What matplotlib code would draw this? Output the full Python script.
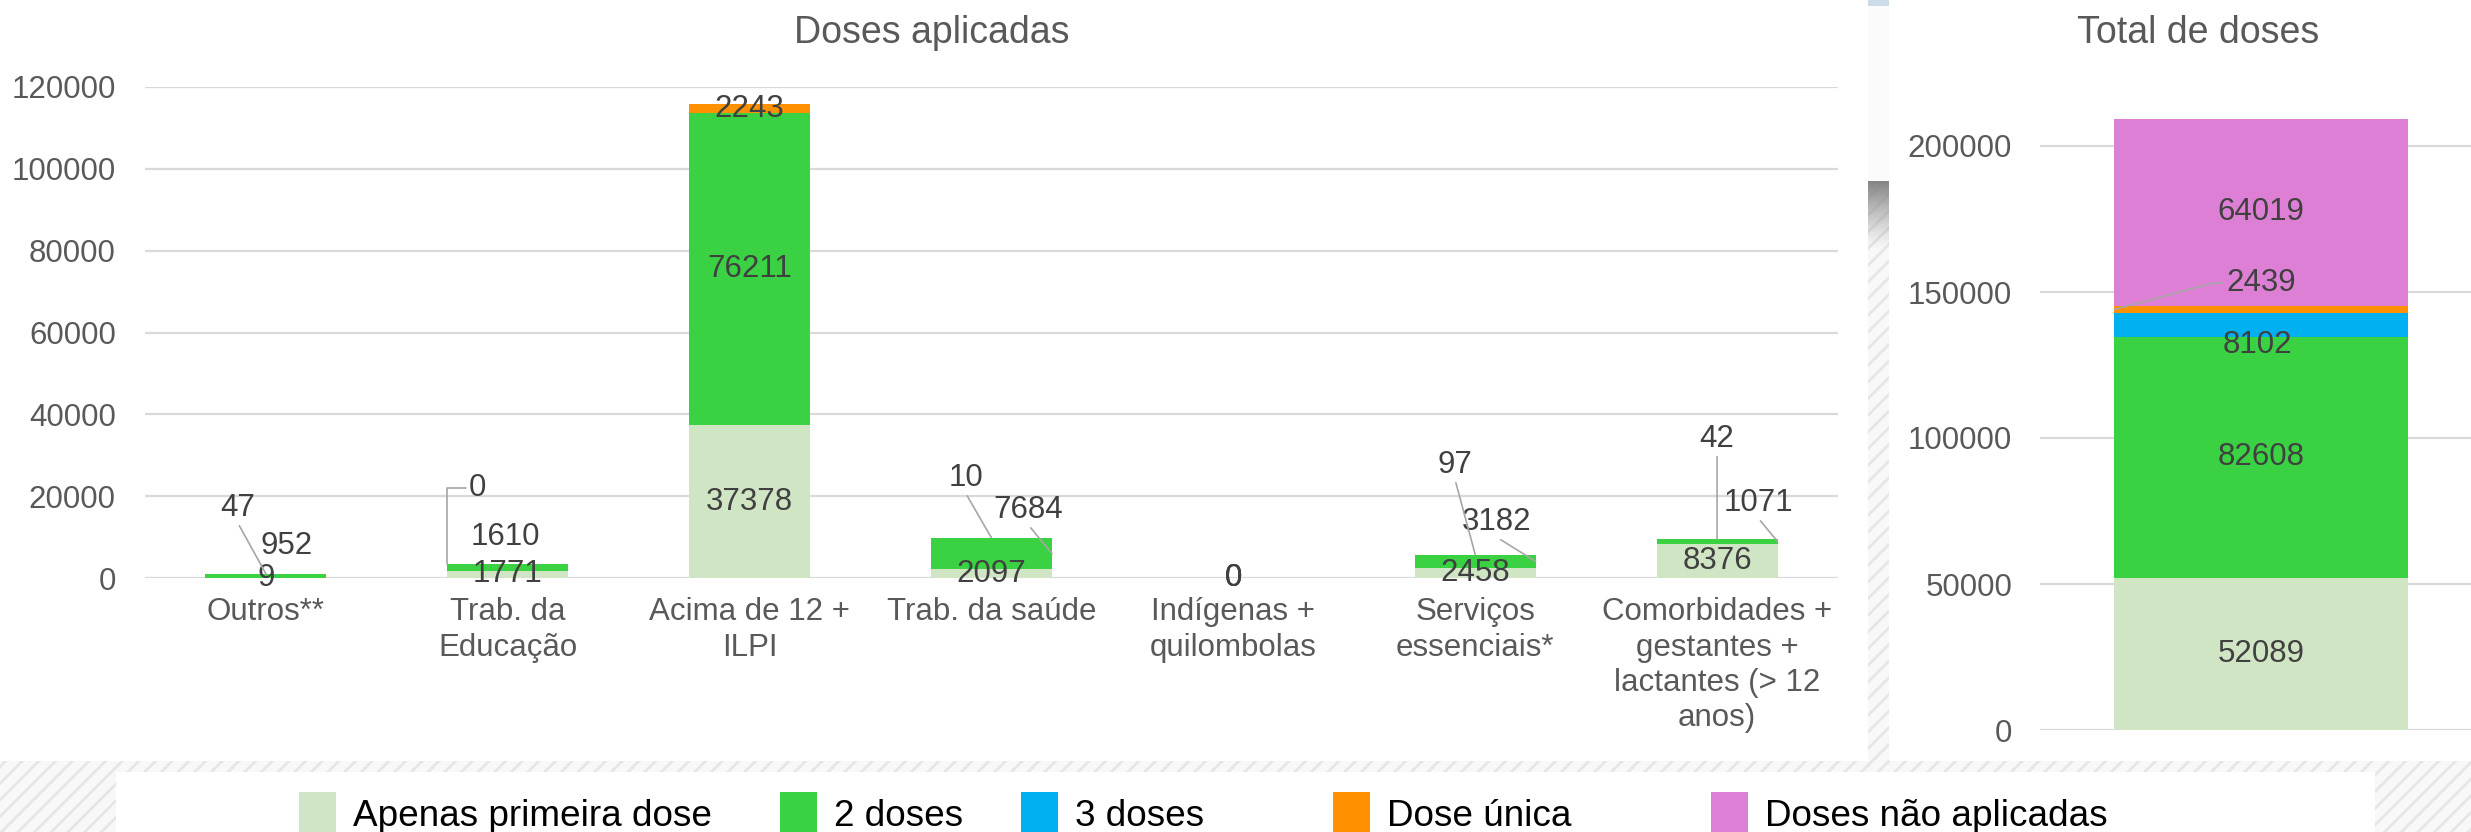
import numpy as np
import matplotlib.pyplot as plt
from matplotlib.patches import Rectangle

###############################################################################
#Data
###############################################################################
categorias = ["Outros**", "Trab. da\nEducação", "Acima de 12 +\nILPI", "Trab. da saúde",
              "Indígenas +\nquilombolas", "Serviços\nessenciais*",
              "Comorbidades +\ngestantes +\nlactantes (> 12\nanos)"]
primeira_dose = [9, 1771, 37378, 2097, 0, 2458, 8376]
duas_doses = [952, 1610, 76211, 7684, 0, 3182, 1071]
dose_unica = [47, 0, 2243, 10, 0, 97, 42]

series_total = ["Apenas primeira dose", "2 doses", "3 doses", "Dose única", "Doses não aplicadas"]
valores_total = [52089, 82608, 8102, 2439, 64019]

cores = ["#D0E5C4", "#3AD142", "#00B0F0", "#FF9100", "#DD80D5"]

###############################################################################
#Style
###############################################################################
plt.rcParams['font.family'] = ['Liberation Sans', 'DejaVu Sans']
plt.rcParams['hatch.linewidth'] = 2.0

W, H = 2471, 832
cinza_txt = "#595959"
cinza_rot = "#404040"
cinza_lin = "#A6A6A6"
fs = 22.5

def fx(px):
    return px / W

def fy(py):
    return 1 - py / H

fig = plt.figure(figsize=(W / 100, H / 100), dpi=100)

#Background decorations (hatched band, separator strip, legend box)
fig.patches.append(Rectangle((0, 0), 1, fy(761), transform=fig.transFigure,
                             facecolor="#F8F8F8", edgecolor="#E6E6E6", hatch="//", lw=0, zorder=0))
fig.patches.append(Rectangle((fx(1868), fy(762)), fx(21), fy(181) - fy(762), transform=fig.transFigure,
                             facecolor="#F8F8F8", edgecolor="#E6E6E6", hatch="//", lw=0, zorder=0))
fig.patches.append(Rectangle((fx(1868), fy(181)), fx(21), fy(6) - fy(181), transform=fig.transFigure,
                             facecolor="#FBFBFB", lw=0, zorder=0))
fig.patches.append(Rectangle((fx(1868), fy(6)), fx(21), 1 - fy(6), transform=fig.transFigure,
                             facecolor="#C9DCE8", lw=0, zorder=0))
fig.patches.append(Rectangle((fx(116), 0), fx(2375 - 116), fy(772), transform=fig.transFigure,
                             facecolor="white", lw=0, zorder=0))

#gradient on top of the strip
axg = fig.add_axes([fx(1868), fy(250), fx(21), fy(181) - fy(250)])
axg.set_zorder(1)
grad = np.zeros((64, 2, 4))
grad[..., :3] = 0.52
grad[..., 3] = np.linspace(1, 0, 64)[:, None] ** 1.2
axg.imshow(grad, aspect="auto", interpolation="bilinear")
axg.axis("off")

###############################################################################
#Left chart: Doses aplicadas
###############################################################################
ax1 = fig.add_axes([fx(145), fy(578), fx(1838 - 145), fy(87) - fy(578)])
x = np.arange(len(categorias))
largura = 0.5

series_esq = [primeira_dose, duas_doses, dose_unica]
cores_esq = [cores[0], cores[1], cores[3]]

# manually placed labels: (offset from category centre, height, leader type)
rotulos_movidos = {
    (1, 0): (0.087, 7800, None),
    (2, 0): (-0.116, 17100, "top"),
    (1, 1): (-0.012, 10000, None),
    (2, 1): (-0.124, 22000, "elbow"),
    (1, 3): (0.153, 16600, "edge"),
    (2, 3): (-0.107, 24400, "top"),
    (1, 5): (0.087, 13700, "edge"),
    (2, 5): (-0.083, 27600, "top"),
    (1, 6): (0.17, 18300, "edge"),
    (2, 6): (0.0, 34000, "top"),
}

base = np.zeros(len(categorias))
for s, (vals, cor) in enumerate(zip(series_esq, cores_esq)):
    vals = np.array(vals)
    ax1.bar(x, vals, largura, bottom=base, color=cor, zorder=2)
    for i in x:
        meio = base[i] + vals[i] / 2
        topo = sum(serie[i] for serie in series_esq)
        if (s, i) in rotulos_movidos:
            dx, ylab, tipo = rotulos_movidos[(s, i)]
            if tipo is None:
                ax1.text(i + dx, ylab, str(vals[i]), ha="center", va="center",
                         fontsize=fs, color=cinza_rot, zorder=4)
            elif tipo == "top":
                ax1.annotate(str(vals[i]), xy=(i, topo), xytext=(i + dx, ylab),
                             ha="center", va="center", fontsize=fs, color=cinza_rot, zorder=4,
                             arrowprops=dict(arrowstyle="-", color=cinza_lin, lw=1.2,
                                             relpos=(0.5, 0), shrinkA=0, shrinkB=0))
            elif tipo == "edge":
                ax1.annotate(str(vals[i]), xy=(i + largura / 2, meio), xytext=(i + dx, ylab),
                             ha="center", va="center", fontsize=fs, color=cinza_rot, zorder=4,
                             arrowprops=dict(arrowstyle="-", color=cinza_lin, lw=1.2,
                                             relpos=(0.5, 0), shrinkA=0, shrinkB=0))
            else:
                ax1.annotate(str(vals[i]), xy=(i - largura / 2, topo), xytext=(i + dx, ylab),
                             ha="center", va="center", fontsize=fs, color=cinza_rot, zorder=4,
                             arrowprops=dict(arrowstyle="-", color=cinza_lin, lw=1.2,
                                             relpos=(0, 0.5), shrinkA=0, shrinkB=0,
                                             connectionstyle="angle,angleA=0,angleB=90,rad=0"))
        else:
            ax1.text(i, meio, str(vals[i]), ha="center", va="center",
                     fontsize=fs, color=cinza_rot, zorder=4)
    base = base + vals

ax1.set_xlim(-0.5, len(categorias) - 0.5)
ax1.set_ylim(0, 120000)
ax1.set_yticks(np.arange(0, 120001, 20000))
ax1.set_yticklabels([str(v) for v in range(0, 120001, 20000)])
ax1.set_xticks(x)
ax1.set_xticklabels(categorias, linespacing=1.22)
ax1.tick_params(axis="y", length=0, pad=21, labelsize=fs, labelcolor=cinza_txt)
ax1.tick_params(axis="x", length=0, pad=14, labelsize=fs, labelcolor=cinza_txt)
ax1.grid(axis="y", color="#D9D9D9", lw=1.6, zorder=0)
ax1.set_axisbelow(True)
for sp in ax1.spines.values():
    sp.set_visible(False)
ax1.patch.set_alpha(0)

fig.text(fx(932), fy(43), "Doses aplicadas", ha="center", va="baseline", fontsize=27, color=cinza_txt)

###############################################################################
#Right chart: Total de doses
###############################################################################
ax2 = fig.add_axes([fx(2040), fy(730), fx(442), fy(87.6) - fy(730)])
larg2 = 0.663
base2 = 0
for s, (v, cor) in enumerate(zip(valores_total, cores)):
    ax2.bar(0, v, larg2, bottom=base2, color=cor, zorder=2)
    meio = base2 + v / 2
    if s == 2:
        ax2.text(-0.007, 131850, str(v), ha="center", va="center", fontsize=fs, color=cinza_rot, zorder=4)
    elif s == 3:
        ax2.annotate(str(v), xy=(-larg2 / 2, meio), xytext=(0, 153080),
                     ha="center", va="center", fontsize=fs, color=cinza_rot, zorder=4,
                     arrowprops=dict(arrowstyle="-", color=cinza_lin, lw=1.2,
                                     relpos=(0, 0.5), shrinkA=0, shrinkB=0,
                                     connectionstyle="angle,angleA=0,angleB=15,rad=0"))
    else:
        ax2.text(0, meio, str(v), ha="center", va="center", fontsize=fs, color=cinza_rot, zorder=4)
    base2 += v

ax2.set_xlim(-0.5, 0.5)
ax2.set_ylim(0, 220000)
ax2.set_yticks(np.arange(0, 200001, 50000))
ax2.set_yticklabels([str(v) for v in range(0, 200001, 50000)])
ax2.set_xticks([])
ax2.tick_params(axis="y", length=0, pad=20, labelsize=fs, labelcolor=cinza_txt)
ax2.grid(axis="y", color="#D9D9D9", lw=1.6, zorder=0)
ax2.set_axisbelow(True)
for sp in ax2.spines.values():
    sp.set_visible(False)
ax2.patch.set_alpha(0)

fig.text(fx(2198), fy(43), "Total de doses", ha="center", va="baseline", fontsize=27, color=cinza_txt)

###############################################################################
#Legend
###############################################################################
pos_leg = [299, 780, 1021, 1333, 1711]
for nome, cor, px in zip(series_total, cores, pos_leg):
    fig.patches.append(Rectangle((fx(px), fy(840)), fx(37), fy(792) - fy(840),
                                 transform=fig.transFigure, facecolor=cor, lw=0, zorder=1))
    fig.text(fx(px + 54), fy(826), nome, ha="left", va="baseline", fontsize=26.6, color="black")

fig.savefig("out.png", dpi=100)
